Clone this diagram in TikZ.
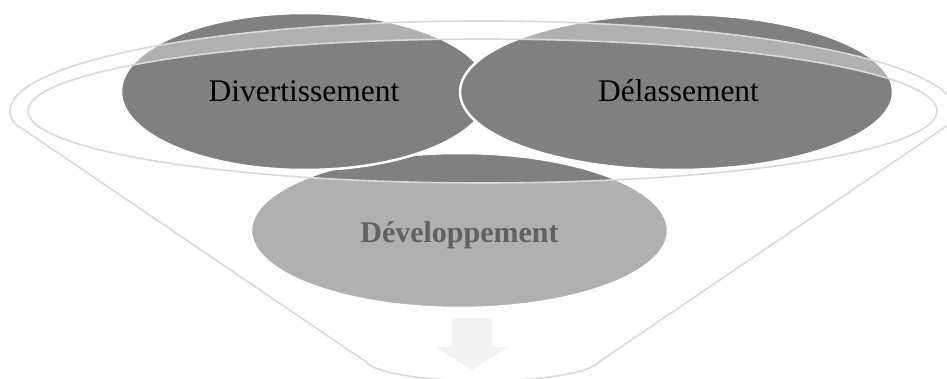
\documentclass[tikz,border=0pt]{standalone}
\usepackage{fontspec}
\setmainfont{Liberation Serif}
\definecolor{circgray}{HTML}{808080}
\definecolor{funline}{HTML}{D9D9D9}
\definecolor{arrowc}{HTML}{F2F2F2}
\begin{document}
\begin{tikzpicture}[x=1pt,y=1pt,
  circ/.style={fill=circgray, draw=white, line width=2.5pt},
  lbl/.style={anchor=base, font=\fontsize{31.5}{36}\selectfont, inner sep=0pt},
  funnelshape/.style={fill=white, fill opacity=0.38, draw=funline, line width=1.6pt, line join=round, even odd rule},
  arrowshape/.style={fill=arrowc}
]
\clip (0,0) rectangle (947,378);
\fill[white] (0,0) rectangle (947,378);
% circles
\draw[circ] (459.5,147.5) ellipse [x radius=208.5, y radius=77.5];
\node[lbl, font=\fontsize{30}{36}\selectfont\bfseries] (dev) at (459.5,136) {Développement};
\draw[circ] (305,286.5) ellipse [x radius=184, y radius=78.5];
\draw[circ] (676.5,286) ellipse [x radius=216.5, y radius=78];
\node[lbl] (div) at (304,276) {Divertissement};
\node[lbl] (del) at (678.5,276) {Délassement};
% funnel
\coordinate (fstart) at (14.6,254.5);
\coordinate (fbr) at (599.35,16.37);
\path[funnelshape]
  (fstart) arc[start angle=188, end angle=-8, x radius=472.5, y radius=90]
  -- (fbr) arc[start angle=-8, end angle=-172, x radius=118, y radius=22.5] -- cycle
  (482.5,267) ellipse [x radius=454.5, y radius=72];
% arrow
\fill[arrowshape] (452,60) -- (492,60) -- (492,31) -- (507,31) -- (472,8) -- (436,31) -- (452,31) -- cycle;
\end{tikzpicture}
\end{document}
